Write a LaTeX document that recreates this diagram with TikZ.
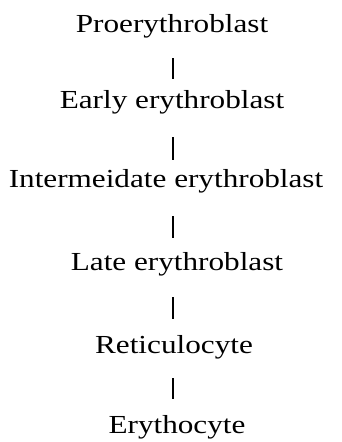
\documentclass[tikz,border=0pt]{standalone}
\usepackage{fontspec}
\setmainfont[FakeStretch=1.2]{Liberation Serif}
\begin{document}
\begin{tikzpicture}[x=1pt,y=-1pt]
\tikzset{
  stage/.style={inner sep=0pt, text height=18pt, text depth=6pt, anchor=base,
    font=\fontsize{26}{30}\selectfont},
  link/.style={line width=1.2pt}
}
\useasboundingbox (0,0) rectangle (341,442);
\node[stage] (p) at (172,32) {Proerythroblast};
\node[stage] (e) at (172,108) {Early erythroblast};
\node[stage] (i) at (166,187) {Intermeidate erythroblast};
\node[stage] (l) at (177,270) {Late erythroblast};
\node[stage] (r) at (174,353) {Reticulocyte};
\node[stage] (y) at (177,433) {Erythocyte};
\coordinate (cx) at (173,0);
\draw[link, shorten <=20pt, shorten >=11pt] (p.south -| cx) -- (e.north -| cx);
\draw[link, shorten <=23pt, shorten >=9pt] (e.south -| cx) -- (i.north -| cx);
\draw[link, shorten <=23pt, shorten >=14pt] (i.south -| cx) -- (l.north -| cx);
\draw[link, shorten <=21pt, shorten >=16pt] (l.south -| cx) -- (r.north -| cx);
\draw[link, shorten <=19pt, shorten >=16pt] (r.south -| cx) -- (y.north -| cx);
\end{tikzpicture}
\end{document}
